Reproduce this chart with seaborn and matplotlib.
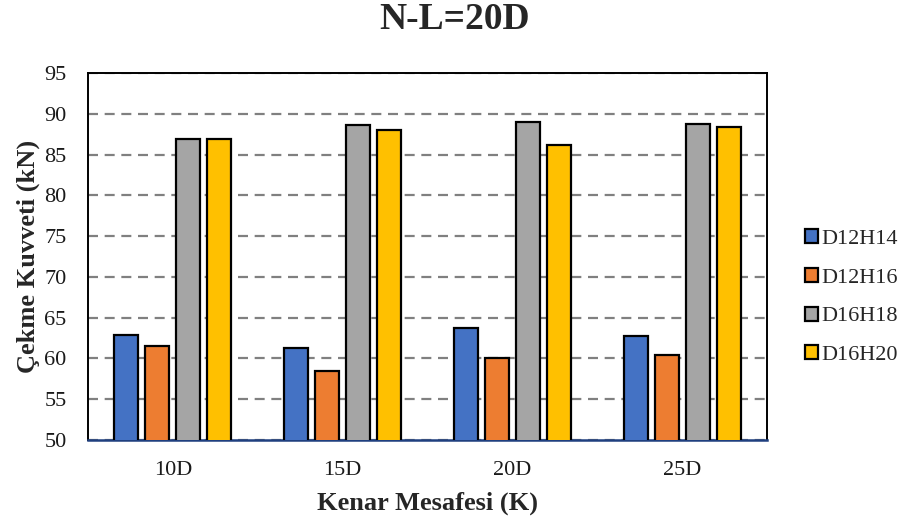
import pandas as pd
import seaborn as sns
import matplotlib.pyplot as plt

sns.set_theme(style="white")
plt.rcParams['font.family'] = ['Liberation Serif', 'DejaVu Serif']

categories = ["10D", "15D", "20D", "25D"]
series = ["D12H14", "D12H16", "D16H18", "D16H20"]
d12h14 = [62.9, 61.3, 63.7, 62.8]
d12h16 = [61.5, 58.4, 60.0, 60.4]
d16h18 = [86.9, 88.6, 89.0, 88.7]
d16h20 = [86.9, 88.0, 86.2, 88.4]
colors = ["#4472C4", "#ED7D31", "#A5A5A5", "#FFC000"]

rows = []
for name, vals in zip(series, [d12h14, d12h16, d16h18, d16h20]):
    for cat, v in zip(categories, vals):
        rows.append([cat, name, v])
df = pd.DataFrame(rows, columns=["Kenar", "Seri", "Kuvvet"])

fig = plt.figure(figsize=(9.09, 5.24), dpi=100)
ax = fig.add_axes([88 / 909, 84 / 524, 679 / 909, 367 / 524])

sns.barplot(data=df, x="Kenar", y="Kuvvet", hue="Seri", palette=colors,
            saturation=1, width=0.73, gap=0.23, edgecolor="black", linewidth=1.6,
            errorbar=None, ax=ax, zorder=3)

ax.set_ylim(50, 95)
ax.set_yticks(range(50, 96, 5))
ax.set_axisbelow(True)
ax.yaxis.grid(True, color="#808080", linestyle=(0, (4.5, 3)), linewidth=1.6)
ax.xaxis.grid(False)
ax.tick_params(axis="both", length=0, labelsize=16, colors="#1a1a1a")
ax.tick_params(axis="y", pad=15.5)
ax.tick_params(axis="x", pad=15)

for s in ["left", "top", "right"]:
    ax.spines[s].set_color("black")
    ax.spines[s].set_linewidth(1.4)
ax.spines["bottom"].set_color("#1F3F7F")
ax.spines["bottom"].set_linewidth(1.8)

ax.set_xlabel("Kenar Mesafesi (K)", fontsize=19, fontweight="bold")
ax.set_ylabel("Çekme Kuvveti (kN)", fontsize=19, fontweight="bold")
ax.xaxis.set_label_coords(0.5, -0.14)
ax.yaxis.set_label_coords(-0.071, 0.5)

fig.suptitle("N-L=20D", fontsize=27, fontweight="bold", y=0.963, va="center")

handles, labels = ax.get_legend_handles_labels()
ax.legend(handles, labels, loc="center left", bbox_to_anchor=(805 / 909, 0.433),
          bbox_transform=fig.transFigure, frameon=False, fontsize=16,
          handlelength=0.6, handleheight=0.6, handletextpad=0.15,
          labelspacing=0.85, borderpad=0, borderaxespad=0)

plt.savefig("out.png", dpi=100)
